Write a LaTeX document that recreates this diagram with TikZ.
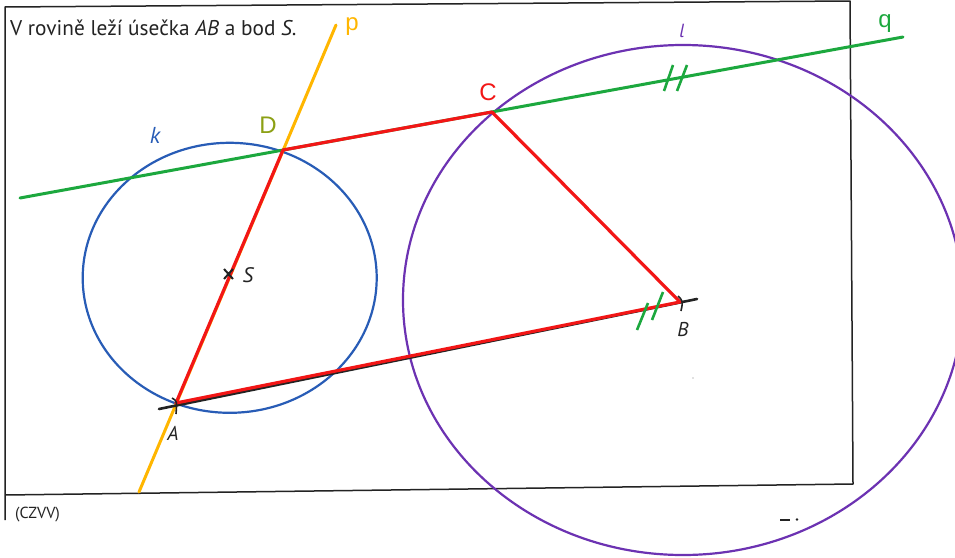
\documentclass[tikz,border=0pt]{standalone}
\usepackage{fontspec}
\setmainfont{PT Sans}
\newfontfamily\arialf{Liberation Sans}
\definecolor{cred}{RGB}{242,22,22}
\definecolor{cgreen}{RGB}{28,168,62}
\definecolor{corange}{RGB}{255,182,0}
\definecolor{cblue}{RGB}{40,92,182}
\definecolor{cpurple}{RGB}{108,50,178}
\definecolor{colive}{RGB}{140,160,20}
\definecolor{cblack}{RGB}{35,35,35}
\tikzset{
  frameline/.style={cblack, line width=1.5},
  geoline/.style={line width=3, line cap=round},
  circ/.style={line width=2.2},
  slash/.style={cgreen, line width=2.6},
  lbl/.style={anchor=base, inner sep=0},
  arlbl/.style={lbl, font=\arialf\fontsize{24}{26}\selectfont},
  itlbl/.style={lbl, font=\itshape\fontsize{21}{23}\selectfont}
}
\begin{document}
\begin{tikzpicture}[x=1pt,y=-1pt,line join=round]
\useasboundingbox (0,0) rectangle (955,557);
\clip (0,0) rectangle (955,557);
\fill[white] (0,0) rectangle (955,557);
% points
\coordinate (A) at (176,403);
\coordinate (B) at (680,302);
\coordinate (C) at (492,112);
\coordinate (D) at (283,150);
\coordinate (S) at (229,274);
\coordinate (p1) at (139,492);
\coordinate (p2) at (336,25);
\coordinate (q1) at (20,198);
\coordinate (q2) at (903,37);
\coordinate (ab1) at (159,409);
\coordinate (ab2) at (697,299);
\coordinate (kc) at (229.7,277.8);
\coordinate (lc) at (683,300);
% frame
\draw[frameline] (5,520) -- (5,7) -- (850,1) -- (853,484) -- (5,495);
% circles
\draw[circ, cblue] (kc) ellipse [x radius=147pt, y radius=135pt];
\draw[circ, cpurple] (lc) ellipse [x radius=280pt, y radius=255pt];
% lines p, q, AB
\draw[geoline, corange] (p1) -- (p2);
\draw[geoline, cgreen] (q1) -- (q2);
\draw[geoline, cblack, line width=2.6] (ab1) -- (ab2);
% red quadrilateral
\draw[geoline, cred, line width=3.2] (A) -- (D) -- (C) -- (B) -- cycle;
% tick marks
\draw[slash] (664,91) -- (673,65);
\draw[slash] (677,91) -- (687,65);
\draw[slash] (637,330) -- (648,303);
\draw[slash] (652,320) -- (663,292);
% small arcs at A, B
\draw[cblack, line width=1.6] (172,398) .. controls (177,401) .. (176,414);
\draw[cblack, line width=1.6] (678,296) .. controls (683,301) .. (681,311);
% S cross
\draw[cblack, line width=2] (224,269) -- (233,279) (224,279) -- (233,269);
% labels
\node[anchor=base west, inner sep=0, text=cblack, font=\fontsize{21.3}{23}\selectfont] (title) at (10,35) {V rovině leží úsečka \textit{AB} a bod \textit{S}.};
\node[arlbl, text=corange] (lp) at (352,30) {p};
\node[arlbl, text=cgreen] (lq) at (885,27) {q};
\node[arlbl, text=colive] (lD) at (268,133) {D};
\node[arlbl, text=cred] (lC) at (488,100) {C};
\node[itlbl, text=cblue, font=\itshape\fontsize{23}{25}\selectfont] (lk) at (155,143) {k};
\node[itlbl, text=cpurple, font=\itshape\fontsize{19}{21}\selectfont] (ll) at (682,37) {l};
\node[itlbl, text=cblack] (lS) at (248,282) {S};
\node[itlbl, text=cblack, font=\itshape\fontsize{20}{22}\selectfont] (lA) at (173,440) {A};
\node[itlbl, text=cblack, font=\itshape\fontsize{20}{22}\selectfont] (lB) at (683,336) {B};
\node[anchor=base west, inner sep=0, text=cblack, font=\fontsize{16}{18}\selectfont] (src) at (15,518) {(CZVV)};
% scan specks
\fill[cblack] (780,519) rectangle (790,521);
\fill[cblack] (797,519.5) circle (1.4pt);
\fill[gray] (693,378) circle (0.6pt);
\end{tikzpicture}
\end{document}
